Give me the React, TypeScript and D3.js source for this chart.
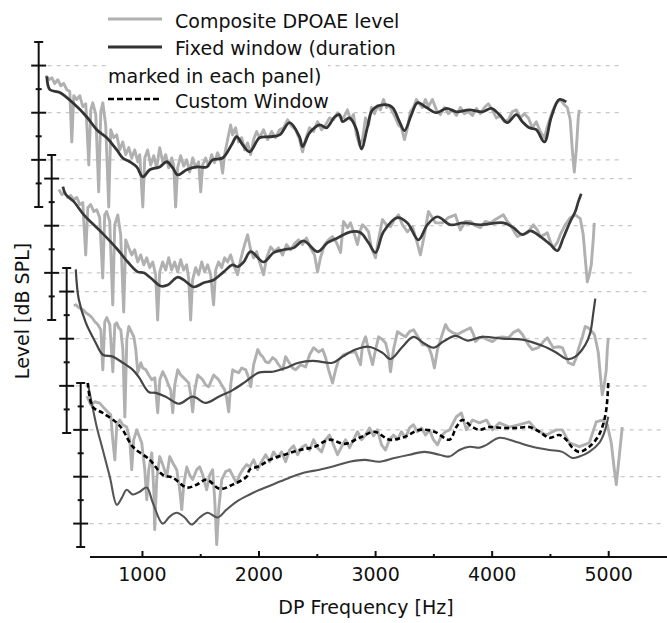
import React, { useEffect, useRef } from "react";
import * as d3 from "d3";

// x axis ticks
const xTicks = [1000, 2000, 3000, 4000, 5000];
const xMinorTicks = [1500, 2500, 3500, 4500];

const legendLabels = ["Composite DPOAE level", "Fixed window (duration", "marked in each panel)", "Custom Window"];

// [DP frequency Hz, level dB]
const p1Composite = [
  [531, 7.9], [557, 7.0], [583, 7.4], [608, 6.2], [634, 7.0], [660, 5.7], [685, 6.2], [711, 4.9], [737, 4.5], [754, -6.2],
  [771, 3.6], [797, 2.8], [823, 3.6], [848, 1.3], [874, 1.9], [900, -11.1], [917, 0.6], [934, 2.1], [960, -0.4], [985, -16.8],
  [1003, 0.2], [1020, 2.1], [1045, -2.6], [1071, -20], [1088, -3.6], [1114, -5.3], [1140, -4.7], [1165, -7.9], [1191, -6.2], [1217, -8.9],
  [1243, -7.4], [1268, -9.6], [1294, -7.9], [1320, -10.4], [1337, -8.9], [1363, -20], [1380, -9.6], [1405, -7.9], [1431, -11.1], [1457, -9.1],
  [1482, -11.7], [1508, -7.4], [1534, -10.4], [1560, -8.9], [1585, -11.7], [1611, -9.6], [1628, -11.1], [1645, -20], [1662, -11.7], [1688, -9.1],
  [1714, -11.3], [1740, -10], [1765, -12.6], [1791, -9.6], [1817, -11.7], [1842, -10.4], [1860, -16.8], [1877, -11.1], [1902, -9.6], [1928, -11.3],
  [1954, -8.9], [1979, -10.6], [2005, -8.5], [2031, -10], [2048, -12.8], [2065, -8.9], [2091, -5.7], [2117, -2.6], [2134, -4.7], [2159, -3.2],
  [2185, -6.2], [2211, -5.3], [2237, -7.9], [2262, -6.4], [2288, -8.9], [2314, -5.7], [2340, -4.0], [2365, -5.3], [2399, -3.6], [2434, -5.7],
  [2468, -4.0], [2502, -5.3], [2537, -3.6], [2571, -3.2], [2605, -1.5], [2639, -2.8], [2674, -3.6], [2708, -5.7], [2734, -8.3], [2759, -5.7],
  [2794, -3.2], [2828, -4.0], [2862, -1.9], [2896, -3.6], [2931, -2.6], [2965, -1.1], [2999, -1.5], [3034, 0], [3059, -1.1], [3085, -1.1],
  [3119, 0.6], [3145, -1.5], [3171, -0.4], [3196, -4.7], [3222, -6.8], [3248, -5.7], [3274, -1.1], [3299, -2.6], [3325, 1.1], [3351, -0.2],
  [3377, 1.5], [3402, 0.6], [3428, 2.8], [3454, 1.1], [3479, 1.5], [3505, 0.2], [3531, -1.1], [3556, -2.6], [3582, -3.2], [3608, -5.7],
  [3634, -3.2], [3659, 0.2], [3685, 1.1], [3711, 2.8], [3736, 1.9], [3762, 1.1], [3788, 2.8], [3813, 1.3], [3848, 2.8], [3882, 0.6],
  [3916, -0.4], [3951, 1.1], [3985, -0.2], [4019, 0.6], [4053, -0.6], [4088, 1.1], [4122, -0.2], [4156, 0.2], [4191, -0.6], [4225, 0.9],
  [4259, -0.2], [4293, 1.1], [4328, 1.9], [4362, 0.6], [4396, -1.1], [4431, -0.6], [4465, -1.9], [4499, -1.5], [4533, 0.2], [4568, 0.6],
  [4602, -1.1], [4636, -0.2], [4671, -1.1], [4705, -3.2], [4739, -1.9], [4773, -4.0], [4808, -5.3], [4842, -2.3], [4876, 0.2], [4910, 2.1],
  [4945, 2.8], [4979, 1.7], [5005, 1.1], [5030, -1.5], [5048, -7.9], [5065, -12.6], [5082, -7.9], [5099, -1.1], [5108, 0.6],
];
const p1Fixed = [
  [540, 7.7], [566, 4.9], [651, 4.3], [763, 2.1], [883, -0.9], [968, -3.6], [1054, -5.3], [1140, -7.9], [1191, -9.6], [1251, -10.4],
  [1311, -11.5], [1363, -13.6], [1423, -12.1], [1508, -11.5], [1568, -10.4], [1620, -11.7], [1663, -13.2], [1740, -12.1], [1825, -11.5], [1911, -11.5],
  [1962, -10], [2048, -9.6], [2125, -6.8], [2168, -5.1], [2220, -6.8], [2280, -8.3], [2365, -5.3], [2451, -5.1], [2537, -4.7], [2622, -2.1],
  [2708, -5.1], [2734, -7.2], [2794, -4.3], [2880, -2.6], [2940, -3.2], [3008, -0.9], [3051, -0.4], [3077, -1.9], [3137, -1.1], [3197, -3.6],
  [3239, -7.7], [3291, -3.0], [3334, 0.6], [3437, 1.7], [3505, 1.1], [3565, -1.9], [3608, -3.8], [3668, -0.4], [3719, 2.1], [3797, 1.1],
  [3882, 0], [3968, 0.9], [4054, 0.2], [4165, 0.6], [4276, 0.2], [4353, 0.9], [4422, -0.4], [4491, -2.1], [4568, -0.4], [4619, -1.9],
  [4679, -3.2], [4739, -3.6], [4808, -6.2], [4868, -0.9], [4936, 2.8], [4996, 2.3],
];

const p2Composite = [
  [531, 7.7], [557, 6.6], [582, 7.0], [608, 6.0], [634, 6.4], [660, 5.5], [685, 6.0], [711, 4.5], [737, 4.9], [762, -6.2],
  [780, 3.8], [805, 4.5], [831, 3.0], [857, 3.4], [882, 1.7], [908, -11.1], [925, 2.3], [942, 3.0], [968, 0.9], [994, -16.8],
  [1011, 0.2], [1037, 2.3], [1062, -1.9], [1088, -18.3], [1105, -3.0], [1131, -4.7], [1157, -6.2], [1182, -5.1], [1208, -7.7], [1234, -6.2],
  [1260, -8.3], [1285, -6.8], [1311, -8.9], [1337, -7.7], [1362, -10.4], [1379, -20], [1397, -9.8], [1422, -7.7], [1448, -9.4], [1474, -6.8],
  [1499, -9.4], [1525, -7.7], [1551, -9.8], [1577, -7.2], [1602, -9.4], [1628, -8.3], [1645, -11.1], [1662, -20], [1679, -11.5], [1705, -8.9],
  [1731, -10.4], [1757, -7.7], [1782, -9.8], [1808, -8.3], [1834, -10.4], [1859, -16.8], [1877, -9.4], [1902, -7.7], [1928, -8.9], [1954, -6.8],
  [1979, -7.7], [2005, -6.2], [2031, -8.3], [2065, -10.4], [2091, -7.2], [2125, -4.0], [2151, -1.9], [2177, -5.1], [2202, -6.8], [2228, -5.5],
  [2254, -7.7], [2288, -10.4], [2314, -6.8], [2348, -4.5], [2382, -5.5], [2416, -4.7], [2451, -6.2], [2485, -4.0], [2519, -5.1], [2554, -3.8],
  [2588, -3.0], [2622, -4.0], [2656, -2.6], [2691, -4.7], [2725, -6.2], [2751, -9.8], [2776, -6.8], [2811, -4.0], [2845, -3.0], [2879, -2.3],
  [2914, -3.6], [2948, -5.7], [2974, 0.9], [3008, -0.4], [3034, 0.6], [3068, -1.9], [3093, -4.0], [3119, -0.9], [3136, 0.2], [3162, -0.4],
  [3188, -1.3], [3213, -4.7], [3248, -6.8], [3273, -3.0], [3308, 1.3], [3342, 0.2], [3376, -0.2], [3411, 1.3], [3445, 2.3], [3479, 0.2],
  [3522, -1.3], [3565, -0.2], [3599, -3.0], [3633, -6.2], [3668, -1.9], [3702, 3.0], [3736, 1.7], [3762, 0.6], [3822, 0.6], [3873, 1.7],
  [3933, 2.3], [3976, -0.9], [4019, 0.9], [4062, 0.9], [4105, 0], [4148, -0.4], [4190, 0.9], [4233, 0.6], [4276, 1.3], [4345, 2.3],
  [4379, 0.9], [4405, 0.2], [4439, -1.3], [4465, -2.3], [4499, -1.9], [4550, -1.5], [4602, 0.2], [4636, -0.9], [4662, -2.3], [4696, -1.9],
  [4722, -1.5], [4748, -3.4], [4773, -4.7], [4807, -3.6], [4833, -1.9], [4876, 0.2], [4919, 1.7], [4962, 2.3], [5005, 1.5], [5030, -1.9],
  [5047, -6.8], [5065, -11.9], [5082, -10.4], [5099, -8.3], [5116, -3.0], [5125, 0.6],
];
const p2Fixed = [
  [566, 8.3], [591, 6.6], [660, 5.1], [746, 2.3], [831, 0.2], [917, -1.9], [1037, -5.1], [1123, -7.7], [1208, -9.8], [1260, -10],
  [1320, -11.1], [1405, -12.8], [1465, -12.6], [1551, -10.9], [1603, -11.5], [1688, -13], [1774, -12.1], [1860, -11.5], [1945, -9.8], [2022, -8.3],
  [2065, -8.7], [2117, -7.7], [2177, -5.5], [2288, -7.7], [2374, -5.7], [2460, -5.1], [2545, -4.7], [2631, -3.2], [2751, -5.5], [2837, -3.6],
  [2922, -2.6], [3034, -1.3], [3120, -1.5], [3188, -3.6], [3248, -5.7], [3317, -1.3], [3437, 1.7], [3522, 0.6], [3616, -3.0], [3693, 0.2],
  [3779, 1.9], [3890, 0.2], [4002, 0.6], [4148, 0.2], [4345, 0.6], [4431, -0.4], [4508, -1.9], [4576, -1.1], [4662, -2.3], [4748, -4.0],
  [4808, -5.3], [4859, -2.6], [4919, 0.9], [4962, 3.0], [4988, 5.1], [5013, 6.8],
];

const p3Composite = [
  [532, 7.0], [549, 7.2], [574, 6.6], [609, 6.2], [634, 5.5], [660, 5.1], [686, 4.5], [712, 3.6], [737, 3.0], [763, 1.9],
  [780, -6.6], [797, 3.6], [814, 4.5], [840, 3.0], [866, -7.0], [883, 3.0], [900, 3.4], [917, 2.3], [934, 1.9], [952, -2.3],
  [969, -16.6], [986, -0.2], [1003, 2.6], [1029, 1.3], [1046, 0.4], [1063, -2.3], [1080, -7.2], [1106, -5.1], [1123, -6.2], [1149, -6.6],
  [1174, -7.7], [1200, -8.7], [1226, -8.3], [1251, -15.7], [1269, -8.7], [1294, -7.0], [1320, -8.3], [1337, -9.4], [1363, -10.9], [1380, -15.7],
  [1397, -9.8], [1423, -6.6], [1449, -7.7], [1466, -8.1], [1491, -8.7], [1517, -9.4], [1534, -11.9], [1551, -15.5], [1569, -10.9], [1594, -7.7],
  [1620, -8.3], [1637, -8.7], [1663, -9.8], [1689, -10.2], [1714, -8.7], [1731, -7.7], [1757, -8.3], [1774, -8.7], [1800, -9.8], [1826, -10.9],
  [1843, -12.6], [1860, -15.5], [1877, -9.8], [1894, -6.6], [1920, -7.0], [1946, -7.2], [1971, -6.2], [2006, -6.6], [2031, -8.3], [2049, -10.2],
  [2074, -5.5], [2109, -2.3], [2134, -3.4], [2151, -3.8], [2177, -4.9], [2203, -5.1], [2237, -4.0], [2263, -4.5], [2288, -5.5], [2323, -6.6],
  [2348, -3.8], [2374, -4.9], [2408, -6.2], [2434, -6.6], [2477, -5.5], [2520, -6.0], [2554, -3.4], [2588, -1.9], [2631, -2.8], [2666, -2.3],
  [2691, -4.0], [2717, -6.6], [2751, -9.4], [2777, -6.6], [2803, -4.5], [2846, -3.4], [2888, -3.0], [2948, -2.8], [2974, -4.5], [2991, -5.5],
  [3008, -1.3], [3034, 0.4], [3060, -2.3], [3094, -5.5], [3120, -2.3], [3146, 0.4], [3180, -0.2], [3206, -0.9], [3231, -3.4], [3248, -7.0],
  [3274, -2.3], [3308, 1.5], [3343, 0.9], [3377, 0.4], [3411, 1.5], [3446, 1.9], [3488, 0.2], [3523, -1.3], [3548, -1.3], [3574, -1.7],
  [3600, -3.4], [3625, -6.2], [3651, -2.3], [3677, -0.2], [3720, 3.0], [3745, 1.9], [3780, 1.3], [3822, 0.9], [3865, 1.5], [3900, 1.9],
  [3934, 2.3], [3960, 0.9], [3977, -0.6], [4011, 0.2], [4037, 0.4], [4080, -0.2], [4122, -0.6], [4165, 0.2], [4208, 0.4], [4260, 0.2],
  [4302, 1.3], [4345, 1.9], [4380, 0.9], [4405, -0.2], [4431, -1.3], [4465, -2.3], [4517, -1.9], [4560, -0.6], [4594, 0.2], [4620, -0.9],
  [4645, -1.9], [4688, -1.7], [4722, -1.9], [4748, -3.4], [4774, -5.1], [4817, -5.5], [4842, -4.0], [4859, -2.3], [4894, 0.4], [4919, 2.6],
  [4945, 2.3], [4962, 1.9], [4997, 0.9], [5014, -0.9], [5031, -3.0], [5048, -7.7], [5065, -11.9], [5082, -9.8], [5099, -6.6], [5108, -2.3],
  [5116, 0.2],
];
const p3Fixed = [
  [548, 14.7], [574, 8.3], [634, 3.4], [720, -0.9], [780, -3.4], [866, -3.8], [951, -5.1], [1037, -6.6], [1088, -8.1], [1174, -11.3],
  [1234, -11.5], [1320, -12.3], [1431, -13.8], [1551, -12.3], [1663, -13.6], [1774, -12.3], [1894, -10.9], [2005, -9.1], [2117, -7.2], [2237, -7.0],
  [2348, -6.2], [2460, -5.1], [2580, -4.7], [2751, -5.1], [2837, -3.8], [2948, -2.3], [3060, -1.7], [3180, -3.0], [3248, -4.3], [3351, -1.7],
  [3445, 0.4], [3531, -0.9], [3617, -1.9], [3702, -0.6], [3805, 0.6], [3908, -0.4], [4037, 0.4], [4208, 0], [4379, -0.2], [4551, -1.5],
  [4662, -2.8], [4765, -4.3], [4834, -3.8], [4919, -1.3], [4962, 1.3], [4988, 5.5], [5005, 8.5],
];

const p4Composite = [
  [523, 17.2], [531, 16.8], [557, 15.3], [591, 16.0], [634, 15.7], [668, 14.7], [703, 13.8], [728, 13.2], [745, 7.9], [763, 3.6],
  [780, 11.1], [805, 12.1], [831, 11.1], [865, 10.6], [891, 7.9], [908, 1.5], [925, 7.9], [951, 10], [977, 8.3], [994, 7.2],
  [1020, 1.5], [1037, -4.9], [1054, 1.5], [1080, 5.1], [1097, -2.8], [1105, -11.3], [1122, -0.6], [1148, 4.3], [1174, 2.6], [1208, 0],
  [1234, 4.3], [1268, 2.6], [1294, 1.5], [1320, -2.8], [1337, -7.0], [1354, -1.7], [1380, 2.1], [1405, 0.4], [1431, -0.6], [1465, 1.5],
  [1491, 2.1], [1517, 0.4], [1551, -2.8], [1577, 0.4], [1602, 1.5], [1620, -4.9], [1637, -14.5], [1654, -7.0], [1680, -0.6], [1714, 1.1],
  [1748, 1.5], [1782, -0.2], [1808, -1.3], [1834, 0.4], [1860, 1.5], [1894, 2.6], [1920, 2.1], [1954, 3.6], [1988, 1.5], [2022, 3.2],
  [2057, 4.7], [2091, 3.2], [2125, 5.3], [2159, 4.0], [2194, 5.3], [2228, 3.2], [2262, 5.7], [2297, 6.6], [2331, 4.7], [2365, 6.2],
  [2399, 6.8], [2434, 5.7], [2468, 7.9], [2502, 6.2], [2537, 5.3], [2571, 7.9], [2605, 8.9], [2639, 6.8], [2674, 4.7], [2708, 6.4],
  [2742, 7.9], [2777, 6.2], [2811, 7.9], [2845, 9.6], [2879, 7.9], [2914, 8.9], [2948, 10.4], [2982, 8.7], [3016, 10], [3051, 6.8],
  [3085, 5.7], [3119, 7.9], [3154, 8.9], [3188, 7.9], [3222, 9.6], [3256, 8.3], [3291, 10.4], [3325, 11.1], [3359, 9.6], [3394, 10.4],
  [3428, 8.9], [3462, 10], [3496, 7.9], [3531, 6.8], [3565, 8.7], [3599, 9.6], [3634, 10], [3693, 12.8], [3736, 13.6], [3779, 10],
  [3831, 12.1], [3891, 11.5], [3951, 12.1], [4002, 10], [4062, 11.5], [4148, 10.6], [4233, 11.1], [4319, 11.7], [4379, 10], [4465, 8.9],
  [4550, 10], [4602, 10], [4662, 7.2], [4748, 6.4], [4833, 7.2], [4893, 11.7], [4945, 12.1], [4988, 11.1], [5022, 7.2], [5048, 1.5],
  [5065, -1.7], [5090, 4.3], [5116, 10.6],
];
const p4Fixed = [
  [531, 20], [565, 15.7], [608, 10.6], [660, 5.7], [720, 0], [780, -6.0], [823, -4.5], [865, -2.8], [917, -3.8], [977, -3.2],
  [1037, -2.3], [1088, -5.5], [1174, -10], [1234, -8.5], [1294, -7.7], [1362, -8.7], [1422, -10.2], [1491, -8.7], [1560, -7.7], [1645, -8.7],
  [1722, -7.0], [1808, -5.3], [1920, -3.8], [2005, -2.8], [2134, -1.5], [2262, -0.2], [2391, 0.9], [2519, 1.5], [2648, 2.3], [2777, 3.2],
  [2905, 3.6], [3034, 3.2], [3162, 4.0], [3291, 4.7], [3419, 5.3], [3548, 4.7], [3634, 4.3], [3719, 5.7], [3805, 6.4], [3891, 6.2],
  [3951, 6.8], [4062, 8.3], [4208, 7.4], [4345, 6.4], [4491, 5.7], [4602, 5.3], [4688, 4.0], [4748, 4.3], [4833, 5.3], [4919, 7.2],
  [4962, 9.4], [4996, 12.8],
];
const p4Custom = [
  [531, 20], [574, 14.9], [660, 13.6], [780, 11.5], [831, 10], [917, 6.4], [1063, 3.6], [1174, 0.4], [1260, -0.2], [1380, -2.3],
  [1465, -1.7], [1551, -0.6], [1662, -2.6], [1774, -1.7], [1894, 0], [1920, 1.5], [2005, 2.3], [2091, 3.6], [2220, 4.7], [2348, 5.7],
  [2477, 6.4], [2605, 7.9], [2734, 7.0], [2862, 8.3], [2991, 9.6], [3119, 7.9], [3248, 8.5], [3377, 10], [3505, 9.6], [3634, 7.9],
  [3693, 10.6], [3745, 12.1], [3831, 10.6], [3891, 10], [3976, 10.6], [4088, 10.4], [4208, 10.4], [4319, 10.6], [4405, 9.6], [4491, 8.3],
  [4576, 8.9], [4636, 7.9], [4688, 6.2], [4748, 5.3], [4833, 6.4], [4902, 8.3], [4945, 10.6], [4979, 14.3], [4996, 20],
];

export default function App() {
  const ref = useRef<SVGSVGElement>(null);

  useEffect(() => {
    const svg = d3.select(ref.current);
    svg.selectAll("*").remove();

    const font = "'DejaVu Sans', sans-serif";
    const x = d3.scaleLinear().domain([550, 5500]).range([90, 667]);
    const xAxisY = 557;

    // stacked panels, each shifted left/up
    const panels = [
      { composite: p1Composite, fixed: p1Fixed, custom: null, lo: -20, hi: 15, bottom: 207, top: 42, shift: -42, fixedColor: "#333", fixedWidth: 2.8 },
      { composite: p2Composite, fixed: p2Fixed, custom: null, lo: -20, hi: 15, bottom: 320, top: 155, shift: -29, fixedColor: "#383838", fixedWidth: 2.7 },
      { composite: p3Composite, fixed: p3Fixed, custom: null, lo: -20, hi: 15, bottom: 433, top: 268, shift: -14, fixedColor: "#444", fixedWidth: 2.2 },
      { composite: p4Composite, fixed: p4Fixed, custom: p4Custom, lo: -15, hi: 20, bottom: 547, top: 383, shift: 0, fixedColor: "#555", fixedWidth: 2.1 },
    ];

    const grid = svg.append("g");
    const axes = svg.append("g");
    const curves = svg.append("g");

    panels.forEach((p) => {
      const y = d3.scaleLinear().domain([p.lo, p.hi]).range([p.bottom, p.top]);
      const ax = x(470) + p.shift;
      const ticks = d3.range(Math.ceil(p.lo / 5) * 5, p.hi + 1, 5).filter((v) => v > p.lo && v < p.hi);
      const majors = ticks.filter((v) => v % 10 === 0);

      grid
        .selectAll(null)
        .data(majors)
        .enter()
        .append("line")
        .attr("x1", ax + 9)
        .attr("x2", x(5470) + p.shift)
        .attr("y1", (d) => y(d))
        .attr("y2", (d) => y(d))
        .attr("stroke", "#c8c8c8")
        .attr("stroke-width", 1.2)
        .attr("stroke-dasharray", "4,5");

      const g = axes.append("g");
      g.append("line")
        .attr("x1", ax).attr("x2", ax)
        .attr("y1", y(p.hi)).attr("y2", y(p.lo))
        .attr("stroke", "#111").attr("stroke-width", 2);
      [p.lo, p.hi].forEach((v) => {
        g.append("line")
          .attr("x1", ax - 4.5).attr("x2", ax + 4.5)
          .attr("y1", y(v)).attr("y2", y(v))
          .attr("stroke", "#111").attr("stroke-width", 2);
      });
      g.selectAll(null)
        .data(ticks)
        .enter()
        .append("line")
        .attr("x1", (d) => ax - (d % 10 === 0 ? 7.5 : 3))
        .attr("x2", (d) => ax + (d % 10 === 0 ? 7.5 : 3))
        .attr("y1", (d) => y(d))
        .attr("y2", (d) => y(d))
        .attr("stroke", "#111")
        .attr("stroke-width", 2);
    });

    // curves, back panel last so its dips sit on top
    [...panels].reverse().forEach((p) => {
      const y = d3.scaleLinear().domain([p.lo, p.hi]).range([p.bottom, p.top]);
      const lineRaw = d3.line<number[]>().x((d) => x(d[0]) + p.shift).y((d) => y(d[1]));
      const lineSmooth = d3
        .line<number[]>()
        .x((d) => x(d[0]) + p.shift)
        .y((d) => y(d[1]))
        .curve(d3.curveCatmullRom.alpha(0.5));

      curves.append("path")
        .attr("d", lineRaw(p.composite))
        .attr("fill", "none")
        .attr("stroke", "#b0b0b0")
        .attr("stroke-width", 2.9)
        .attr("stroke-linejoin", "round");

      curves.append("path")
        .attr("d", lineSmooth(p.fixed))
        .attr("fill", "none")
        .attr("stroke", p.fixedColor)
        .attr("stroke-width", p.fixedWidth)
        .attr("stroke-linejoin", "round");

      if (p.custom) {
        curves.append("path")
          .attr("d", lineSmooth(p.custom))
          .attr("fill", "none")
          .attr("stroke", "#000")
          .attr("stroke-width", 2.6)
          .attr("stroke-dasharray", "5,3");
      }
    });

    // x axis
    const xa = svg.append("g");
    xa.append("line")
      .attr("x1", x(550)).attr("x2", x(5500))
      .attr("y1", xAxisY).attr("y2", xAxisY)
      .attr("stroke", "#111").attr("stroke-width", 2);
    xa.selectAll(null).data(xTicks).enter().append("line")
      .attr("x1", (d) => x(d)).attr("x2", (d) => x(d))
      .attr("y1", xAxisY).attr("y2", xAxisY - 6)
      .attr("stroke", "#111").attr("stroke-width", 2);
    xa.selectAll(null).data(xMinorTicks).enter().append("line")
      .attr("x1", (d) => x(d)).attr("x2", (d) => x(d))
      .attr("y1", xAxisY).attr("y2", xAxisY - 3)
      .attr("stroke", "#111").attr("stroke-width", 2);
    xa.selectAll(null).data(xTicks).enter().append("text")
      .attr("x", (d) => x(d))
      .attr("y", 581)
      .attr("text-anchor", "middle")
      .attr("font-family", font)
      .attr("font-size", 19)
      .attr("fill", "#111")
      .text((d) => d);

    svg.append("text")
      .attr("x", 366).attr("y", 614)
      .attr("text-anchor", "middle")
      .attr("font-family", font).attr("font-size", 19).attr("fill", "#111")
      .text("DP Frequency [Hz]");

    svg.append("text")
      .attr("transform", "translate(29,311) rotate(-90)")
      .attr("text-anchor", "middle")
      .attr("font-family", font).attr("font-size", 19).attr("fill", "#111")
      .text("Level [dB SPL]");

    // legend
    const lg = svg.append("g");
    lg.append("rect").attr("x", 106).attr("y", 62).attr("width", 222).attr("height", 26).attr("fill", "#fff");
    lg.append("line").attr("x1", 108).attr("x2", 162).attr("y1", 19).attr("y2", 19)
      .attr("stroke", "#b0b0b0").attr("stroke-width", 2.9);
    lg.append("line").attr("x1", 108).attr("x2", 162).attr("y1", 47).attr("y2", 47)
      .attr("stroke", "#333").attr("stroke-width", 2.8);
    lg.append("line").attr("x1", 108).attr("x2", 162).attr("y1", 99).attr("y2", 99)
      .attr("stroke", "#000").attr("stroke-width", 2.6).attr("stroke-dasharray", "6,3");
    const legendPos = [
      [175, 28],
      [175, 55],
      [108, 83],
      [175, 108],
    ];
    lg.selectAll(null).data(legendLabels).enter().append("text")
      .attr("x", (d, i) => legendPos[i][0])
      .attr("y", (d, i) => legendPos[i][1])
      .attr("font-family", font).attr("font-size", 19).attr("fill", "#111")
      .text((d) => d);
  }, []);

  return (
    <div style={{ position: "absolute", left: 0, top: 0 }}>
      <svg ref={ref} width={667} height={623} style={{ display: "block", background: "#fff" }}></svg>
    </div>
  );
}
